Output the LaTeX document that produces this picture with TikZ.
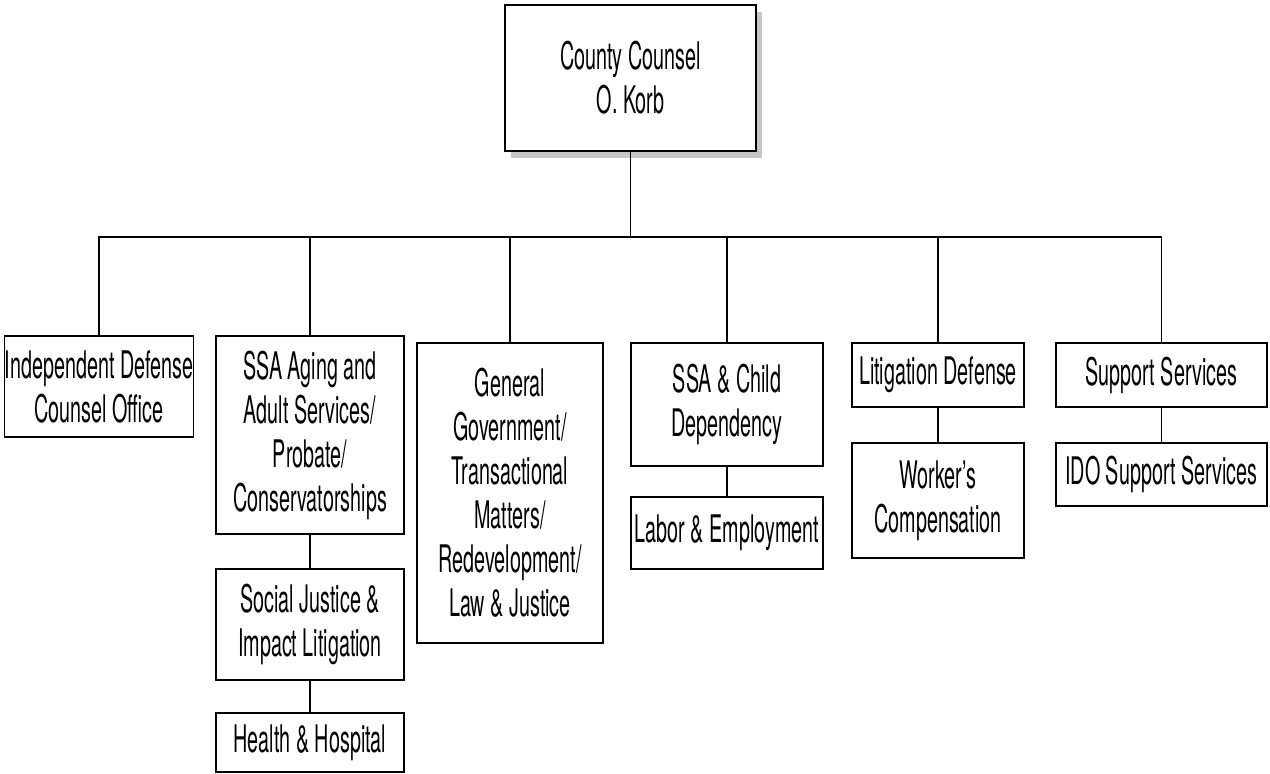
\documentclass[tikz,border=0pt]{standalone}
\usepackage{fontspec}
\setmainfont{TeX Gyre Heros}[FakeStretch=0.52]
\usetikzlibrary{positioning, shadows}

\begin{document}
\begin{tikzpicture}[x=0.5pt, y=-0.5pt, line width=0.6pt,
  unit/.style={draw, line width=0.8pt, fill=white, align=center, inner sep=0pt,
    font=\fontsize{19}{22}\selectfont},
  ]
  \useasboundingbox (0,0) rectangle (1270,773);

  % head of office
  \node[unit, minimum width=125.5pt, minimum height=73pt,
    drop shadow={shadow xshift=3pt, shadow yshift=-3.5pt, fill=black!22, opacity=1}]
    (cc) at (630.5,78) {County Counsel\\O. Korb};

  % divisions
  \node[unit, minimum width=94pt, minimum height=50.5pt] (idc) at (99,386.5) {Independent Defense\\Counsel Office};
  \node[unit, minimum width=94pt, minimum height=99pt] (ssa) at (310,435) {SSA Aging and\\Adult Services/\\Probate/\\Conservatorships};
  \node[unit, minimum width=94pt, minimum height=55.5pt] (sj) at (310,624.5) {Social Justice \&\\Impact Litigation};
  \node[unit, minimum width=94pt, minimum height=29.5pt] (hh) at (310,742.5) {Health \& Hospital};
  \node[unit, minimum width=93pt, minimum height=150pt] (gg) at (510,493) {General\\Government/\\Transactional\\Matters/\\Redevelopment/\\Law \& Justice};
  \node[unit, minimum width=96pt, minimum height=61.5pt] (child) at (727,404.5) {SSA \& Child\\Dependency};
  \node[unit, minimum width=96pt, minimum height=36pt] (labor) at (727,533) {Labor \& Employment};
  \node[unit, minimum width=86pt, minimum height=32pt] (lit) at (938,375) {Litigation Defense};
  \node[unit, minimum width=86pt, minimum height=57.5pt] (wc) at (938,500.5) {Worker’s\\Compensation};
  \node[unit, minimum width=105.5pt, minimum height=32pt] (sup) at (1161.5,375) {Support Services};
  \node[unit, minimum width=105.5pt, minimum height=31.5pt] (ido) at (1161.5,474.5) {IDO Support Services};

  % connectors
  \coordinate (bus) at (630.5,237);
  \draw (cc) -- (bus);
  \foreach \n in {idc,ssa,gg,child,lit,sup}
    \draw (\n.north) |- (bus);
  \draw (ssa) -- (sj) (sj) -- (hh) (child) -- (labor) (lit) -- (wc) (sup) -- (ido);
\end{tikzpicture}
\end{document}
